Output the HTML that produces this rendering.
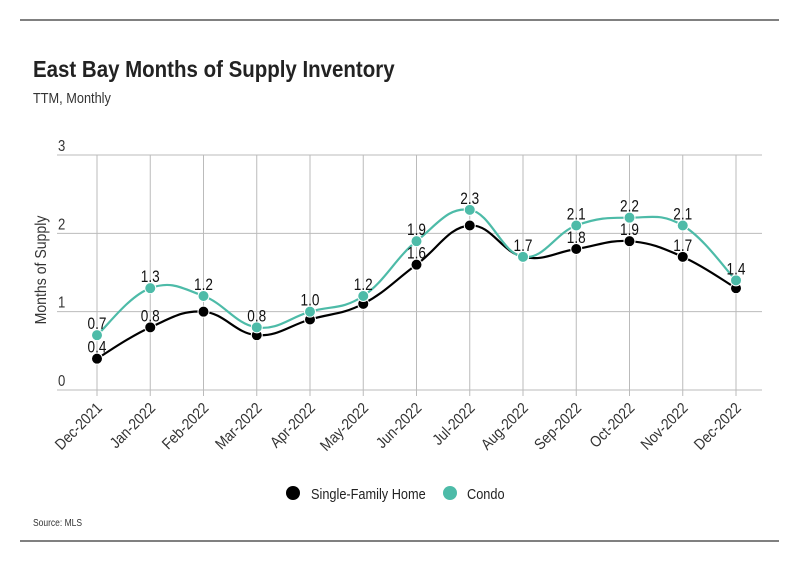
<!DOCTYPE html>
<html><head><meta charset="utf-8">
<style>
body{margin:0;background:#fff;font-family:"Liberation Sans",sans-serif;}
svg text{font-family:"Liberation Sans",sans-serif;}
</style></head>
<body>
<svg id="chart" width="799" height="575" viewBox="0 0 799 575" xmlns="http://www.w3.org/2000/svg">
<line x1="20" y1="20" x2="779" y2="20" stroke="#000" stroke-width="1"/>
<text transform="translate(33,77) scale(0.89,1)" font-size="23" font-weight="bold" fill="#222">East Bay Months of Supply Inventory</text>
<text transform="translate(33,103) scale(0.85,1)" font-size="15" fill="#333">TTM, Monthly</text>
<text transform="translate(46,270) rotate(-90) scale(0.88,1)" text-anchor="middle" font-size="16" fill="#333">Months of Supply</text>
<g id="grid"></g><g id="series"></g><g id="labels"></g>
<g>
<circle cx="293" cy="493" r="7" fill="#000"/>
<text transform="translate(311,499) scale(0.85,1)" font-size="15" fill="#222">Single-Family Home</text>
<circle cx="450" cy="493" r="7" fill="#4dbba8"/>
<text transform="translate(467,499) scale(0.85,1)" font-size="15" fill="#222">Condo</text>
</g>
<text transform="translate(33,526) scale(0.85,1)" font-size="10" fill="#333">Source:  MLS</text>
<line x1="20" y1="541" x2="779" y2="541" stroke="#000" stroke-width="1"/>
</svg>
<script>
const categories=["Dec-2021","Jan-2022","Feb-2022","Mar-2022","Apr-2022","May-2022","Jun-2022","Jul-2022","Aug-2022","Sep-2022","Oct-2022","Nov-2022","Dec-2022"];
const sfhValues=[0.4,0.8,1.0,0.7,0.9,1.1,1.6,2.1,1.7,1.8,1.9,1.7,1.3];
const condoValues=[0.7,1.3,1.2,0.8,1.0,1.2,1.9,2.3,1.7,2.1,2.2,2.1,1.4];
const sfhLabelShown=[1,1,0,0,0,0,1,0,0,1,1,1,0];
const yTicks=[0,1,2,3];

const NS="http://www.w3.org/2000/svg";
const x0=97,x1=736,yb=390,yt=155,ymax=3;
function xs(i){return x0+(x1-x0)*i/(categories.length-1);}
function ys(v){return yb-(yb-yt)*v/ymax;}
function mk(tag,attrs,parent){const e=document.createElementNS(NS,tag);for(const k in attrs)e.setAttribute(k,attrs[k]);parent.appendChild(e);return e;}
const grid=document.getElementById('grid'),series=document.getElementById('series'),labels=document.getElementById('labels');
yTicks.forEach(t=>{
 const l=mk('line',{x1:57,x2:762,y1:ys(t),y2:ys(t),stroke:'#bbb','stroke-width':1},grid);
 
 
 const tx=mk('text',{transform:`translate(58,${ys(t)-4}) scale(0.82,1)`,'font-size':16,fill:'#333'},grid);
 tx.textContent=t;
 
 
});
categories.forEach((c,i)=>{
 const l=mk('line',{x1:xs(i),x2:xs(i),y1:yt,y2:yb+6,stroke:'#bbb','stroke-width':1},grid);
 
 
 const tx=mk('text',{transform:`translate(${xs(i)+6},${yb+19}) rotate(-45) scale(0.88,1)`,'text-anchor':'end','font-size':15.5,fill:'#333'},grid);
 tx.textContent=c;
 
 
});
function path(vals){
 const p=vals.map((v,i)=>[xs(i),ys(v)]);
 let d=`M${p[0][0]},${p[0][1]}`;
 for(let i=0;i<p.length-1;i++){
  const a=p[i-1]||p[i],b=p[i],c=p[i+1],e=p[i+2]||c;
  const t=0.2;
  d+=` C${b[0]+(c[0]-a[0])*t},${b[1]+(c[1]-a[1])*t} ${c[0]-(e[0]-b[0])*t},${c[1]-(e[1]-b[1])*t} ${c[0]},${c[1]}`;
 }
 return d;
}
function drawSeries(vals,color,name,showArr){
 const pth=mk('path',{d:path(vals),fill:'none',stroke:color,'stroke-width':2.2},series);
 
 
 vals.forEach((v,i)=>{
  const c=mk('circle',{cx:xs(i),cy:ys(v),r:5.5,fill:color,stroke:'#fff','stroke-width':1},series);
  
  
  if(showArr[i]){
   const t=mk('text',{transform:`translate(${xs(i)},${ys(v)-6}) scale(0.8,1)`,'text-anchor':'middle','font-size':17,fill:'#111'},labels);
   t.textContent=v.toFixed(1);
   
   
  }
 });
}
drawSeries(sfhValues,'#000','sfh',sfhLabelShown);
drawSeries(condoValues,'#4dbba8','condo',condoValues.map(()=>1));
</script>
</body></html>
